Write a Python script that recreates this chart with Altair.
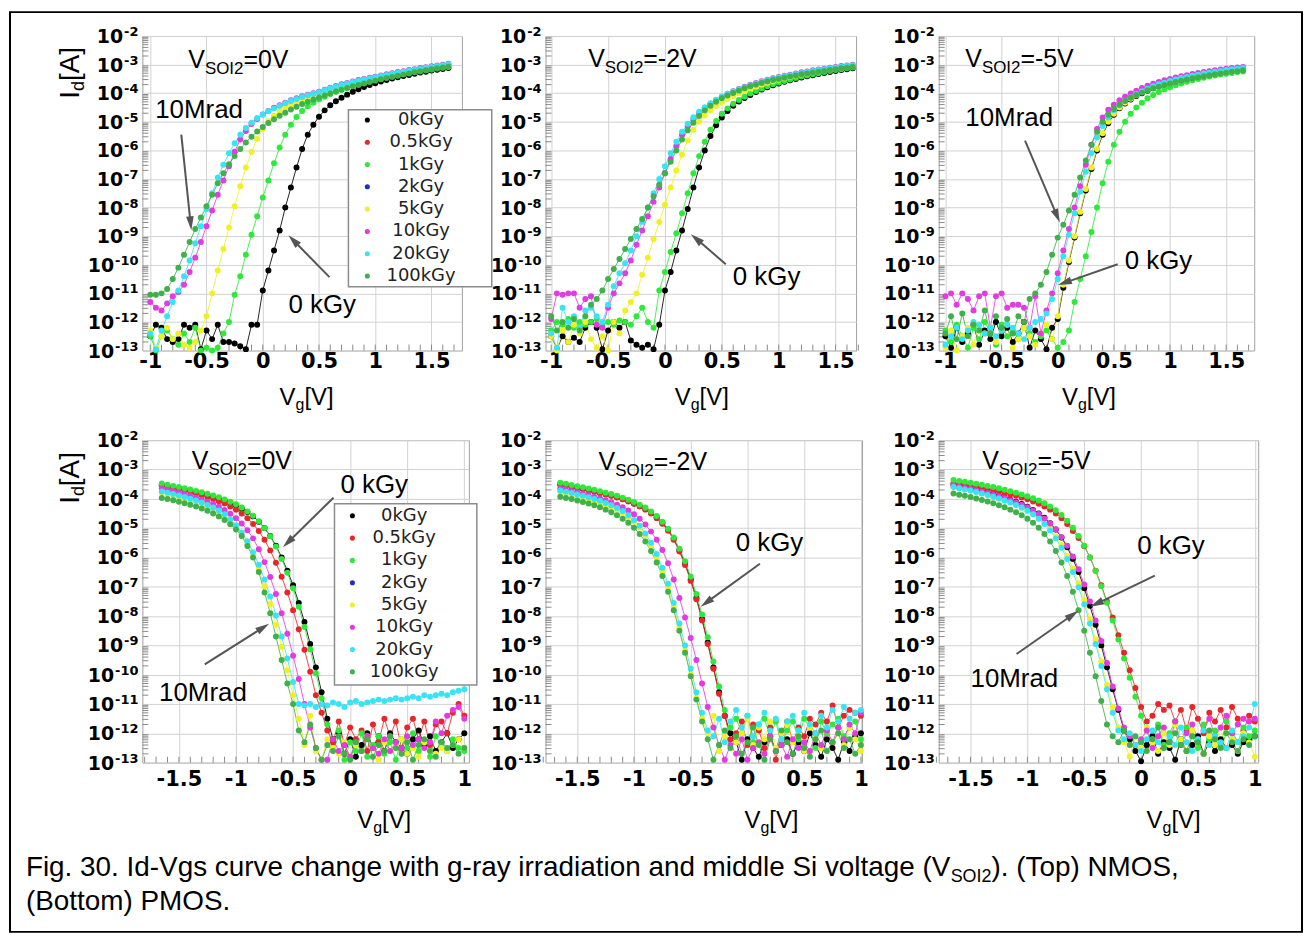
import math
import altair as alt
import pandas as pd

FONT = "Liberation Sans"
TICK_FONT = "DejaVu Sans"
LEGEND_FONT = "DejaVu Sans"
GRID = "#d2d2d2"
ARROW_COLOR = "#555555"

DOSES = ["0kGy", "0.5kGy", "1kGy", "2kGy", "5kGy", "10kGy", "20kGy", "100kGy"]
COLORS = ["#000000", "#e8262a", "#2ee83a", "#1c2fc4", "#f0f028", "#e03ce0", "#38e4f4", "#40b04a"]

VG_NMOS = [-1.0, -0.95, -0.9, -0.85, -0.8, -0.75, -0.7, -0.65, -0.6, -0.55,
           -0.5, -0.45, -0.4, -0.35, -0.3, -0.25, -0.2, -0.15, -0.1, -0.05,
           0.0, 0.05, 0.1, 0.15, 0.2, 0.25, 0.3, 0.35, 0.4, 0.45,
           0.5, 0.55, 0.6, 0.65, 0.7, 0.75, 0.8, 0.85, 0.9, 0.95,
           1.0, 1.05, 1.1, 1.15, 1.2, 1.25, 1.3, 1.35, 1.4, 1.45,
           1.5, 1.55, 1.6, 1.65]
VG_PMOS = [-1.65, -1.6, -1.55, -1.5, -1.45, -1.4, -1.35, -1.3, -1.25, -1.2,
           -1.15, -1.1, -1.05, -1.0, -0.95, -0.9, -0.85, -0.8, -0.75, -0.7,
           -0.65, -0.6, -0.55, -0.5, -0.45, -0.4, -0.35, -0.3, -0.25, -0.2,
           -0.15, -0.1, -0.05, 0.0, 0.05, 0.1, 0.15, 0.2, 0.25, 0.3,
           0.35, 0.4, 0.45, 0.5, 0.55, 0.6, 0.65, 0.7, 0.75, 0.8,
           0.85, 0.9, 0.95, 1.0]

# ---- NMOS, V_SOI2 = 0 V  (log10 Id [A]) ----
N0_0KGY = [-12.5, -12.1, -12.2, -12.6, -12.7, -12.6, -12.1, -12.2, -12.1, -12.95,
           -12.3, -12.6, -12.1, -12.7, -12.7, -12.75, -12.85, -12.95, -12.1, -12.1,
           -10.9, -10.2, -9.5, -8.8, -8.0, -7.3, -6.6, -5.95, -5.45, -5.1,
           -4.82, -4.6, -4.42, -4.28, -4.16, -4.05, -3.95, -3.86, -3.78, -3.71,
           -3.65, -3.59, -3.54, -3.49, -3.44, -3.4, -3.36, -3.32, -3.28, -3.25,
           -3.21, -3.18, -3.15, -3.12]
N0_1KGY = [-12.5, -13.0, -12.5, -12.3, -12.6, -12.8, -12.4, -12.7, -12.2, -13.0,
           -12.9, -13.0, -12.9, -12.4, -12.0, -11.05, -10.4, -9.65, -8.95, -8.3,
           -7.65, -7.05, -6.45, -5.9, -5.45, -5.1, -4.83, -4.62, -4.46, -4.33,
           -4.22, -4.12, -4.03, -3.95, -3.88, -3.81, -3.75, -3.69, -3.64, -3.59,
           -3.54, -3.5, -3.45, -3.41, -3.37, -3.33, -3.3, -3.26, -3.23, -3.2,
           -3.17, -3.14, -3.11, -3.08]
N0_5KGY = [-12.3, -12.9, -12.5, -12.2, -12.6, -12.4, -12.8, -12.9, -12.7, -12.3,
           -11.8, -11.0, -10.2, -9.45, -8.7, -7.95, -7.25, -6.6, -6.05, -5.6,
           -5.25, -4.98, -4.78, -4.62, -4.5, -4.39, -4.3, -4.21, -4.13, -4.06,
           -3.99, -3.92, -3.85, -3.79, -3.73, -3.67, -3.62, -3.57, -3.52, -3.48,
           -3.44, -3.4, -3.36, -3.32, -3.28, -3.25, -3.21, -3.18, -3.15, -3.12,
           -3.09, -3.06, -3.03, -3.0]
N0_10KGY = [-11.3, -11.5, -11.6, -11.35, -11.1, -10.95, -10.7, -10.25, -9.75, -9.2,
            -8.65, -8.1, -7.55, -7.05, -6.55, -6.05, -5.62, -5.32, -5.08, -4.9,
            -4.74, -4.62, -4.51, -4.42, -4.33, -4.25, -4.18, -4.11, -4.05, -4.0,
            -3.95, -3.88, -3.81, -3.75, -3.69, -3.64, -3.59, -3.54, -3.5, -3.46,
            -3.42, -3.38, -3.34, -3.3, -3.26, -3.23, -3.19, -3.16, -3.12, -3.09,
            -3.06, -3.03, -3.0, -2.97]
N0_20KGY = [-12.4, -12.95, -12.3, -11.8, -11.3, -10.9, -10.4, -9.85, -9.25, -8.65,
            -8.05, -7.5, -6.95, -6.5, -6.1, -5.75, -5.45, -5.22, -5.03, -4.87,
            -4.75, -4.63, -4.53, -4.44, -4.35, -4.27, -4.2, -4.13, -4.07, -4.02,
            -3.97, -3.9, -3.83, -3.77, -3.71, -3.66, -3.61, -3.56, -3.52, -3.48,
            -3.44, -3.4, -3.36, -3.32, -3.28, -3.25, -3.21, -3.18, -3.14, -3.11,
            -3.08, -3.05, -3.02, -2.99]
N0_100KGY = [-11.05, -11.05, -11.0, -10.85, -10.5, -10.1, -9.65, -9.2, -8.75, -8.35,
             -7.95, -7.55, -7.15, -6.8, -6.48, -6.2, -5.95, -5.72, -5.52, -5.34,
             -5.18, -5.04, -4.91, -4.79, -4.68, -4.57, -4.47, -4.38, -4.3, -4.22,
             -4.15, -4.08, -4.01, -3.94, -3.88, -3.82, -3.76, -3.71, -3.66, -3.61,
             -3.56, -3.51, -3.47, -3.43, -3.39, -3.35, -3.31, -3.27, -3.23, -3.2,
             -3.16, -3.13, -3.1, -3.07]

# ---- NMOS, V_SOI2 = -2 V ----
N2_0KGY = [-12.5, -12.95, -12.5, -12.7, -12.55, -12.7, -12.2, -12.0, -12.2, -12.95,
           -12.3, -12.0, -12.2, -12.0, -12.65, -12.8, -12.9, -12.8, -12.95, -12.1,
           -10.9, -10.25, -9.5, -8.8, -8.05, -7.3, -6.6, -6.0, -5.5, -5.12,
           -4.85, -4.62, -4.44, -4.29, -4.17, -4.06, -3.96, -3.87, -3.79, -3.72,
           -3.66, -3.6, -3.55, -3.5, -3.45, -3.41, -3.37, -3.33, -3.29, -3.26,
           -3.22, -3.19, -3.16, -3.13]
N2_1KGY = [-12.3, -12.0, -12.1, -11.9, -12.2, -12.0, -12.1, -12.0, -11.9, -12.1,
           -12.0, -12.1, -11.95, -12.0, -12.1, -11.8, -11.5, -12.0, -12.2, -10.9,
           -10.25, -9.55, -8.9, -8.2, -7.5, -6.8, -6.2, -5.7, -5.28, -4.97,
           -4.72, -4.53, -4.37, -4.24, -4.12, -4.01, -3.92, -3.84, -3.76, -3.69,
           -3.63, -3.57, -3.52, -3.47, -3.42, -3.38, -3.34, -3.3, -3.26, -3.22,
           -3.19, -3.16, -3.13, -3.1]
N2_5KGY = [-12.5, -13.0, -12.3, -12.7, -12.1, -12.4, -12.0, -12.6, -12.9, -12.5,
           -13.0, -12.0, -12.4, -11.6, -11.3, -11.0, -10.35, -9.75, -9.1, -8.5,
           -7.9, -7.3, -6.7, -6.15, -5.65, -5.28, -5.0, -4.78, -4.6, -4.45,
           -4.32, -4.2, -4.1, -4.0, -3.92, -3.84, -3.77, -3.7, -3.64, -3.58,
           -3.53, -3.48, -3.43, -3.39, -3.35, -3.31, -3.27, -3.24, -3.2, -3.17,
           -3.14, -3.11, -3.08, -3.05]
N2_10KGY = [-11.9, -11.0, -11.05, -11.0, -11.0, -11.5, -11.2, -11.1, -12.1, -12.2,
            -11.5, -11.0, -10.65, -10.3, -9.85, -9.3, -8.8, -8.3, -7.8, -7.3,
            -6.8, -6.3, -5.85, -5.45, -5.15, -4.9, -4.7, -4.52, -4.37, -4.24,
            -4.12, -4.02, -3.93, -3.85, -3.77, -3.7, -3.64, -3.58, -3.53, -3.48,
            -3.43, -3.39, -3.35, -3.31, -3.27, -3.24, -3.2, -3.17, -3.14, -3.11,
            -3.08, -3.05, -3.03, -3.0]
N2_20KGY = [-12.4, -12.9, -11.5, -12.0, -11.8, -12.2, -11.6, -11.5, -11.8, -12.0,
            -11.4, -10.75, -10.3, -9.95, -9.5, -9.0, -8.5, -8.0, -7.5, -7.0,
            -6.55, -6.1, -5.7, -5.35, -5.07, -4.84, -4.65, -4.49, -4.35, -4.23,
            -4.12, -4.02, -3.94, -3.86, -3.79, -3.72, -3.66, -3.6, -3.55, -3.5,
            -3.45, -3.41, -3.37, -3.33, -3.29, -3.26, -3.22, -3.19, -3.16, -3.13,
            -3.1, -3.07, -3.05, -3.02]
N2_100KGY = [-11.8, -12.3, -12.0, -12.2, -11.9, -12.3, -11.8, -11.4, -11.2, -10.9,
             -10.5, -10.15, -9.8, -9.45, -9.1, -8.75, -8.4, -8.0, -7.6, -7.2,
             -6.8, -6.4, -6.0, -5.62, -5.3, -5.03, -4.8, -4.6, -4.44, -4.3,
             -4.18, -4.08, -3.99, -3.91, -3.83, -3.76, -3.7, -3.64, -3.59, -3.54,
             -3.5, -3.46, -3.42, -3.38, -3.34, -3.31, -3.28, -3.25, -3.22, -3.19,
             -3.16, -3.13, -3.11, -3.08]

# ---- NMOS, V_SOI2 = -5 V ----
N5_0KGY = [-12.5, -12.9, -12.2, -12.7, -12.4, -12.1, -12.8, -12.3, -12.6, -12.0,
           -12.5, -12.2, -12.7, -12.4, -12.0, -12.9, -12.3, -12.6, -12.95, -12.2,
           -11.9, -10.8, -9.9, -9.05, -8.2, -7.4, -6.65, -6.0, -5.45, -5.05,
           -4.75, -4.53, -4.36, -4.22, -4.1, -4.0, -3.91, -3.83, -3.76, -3.7,
           -3.64, -3.59, -3.54, -3.5, -3.46, -3.42, -3.38, -3.35, -3.32, -3.29,
           -3.26, -3.23, -3.21, -3.19]
N5_1KGY = [-12.3, -12.7, -12.1, -12.5, -12.9, -12.2, -12.6, -12.0, -12.4, -12.8,
           -12.1, -12.5, -12.3, -12.6, -12.2, -12.4, -12.7, -12.5, -12.3, -12.6,
           -12.9, -12.7, -12.3, -11.3, -10.5, -9.7, -8.85, -8.0, -7.15, -6.4,
           -5.8, -5.35, -5.0, -4.72, -4.5, -4.33, -4.18, -4.06, -3.96, -3.87,
           -3.79, -3.72, -3.66, -3.6, -3.55, -3.5, -3.46, -3.42, -3.38, -3.35,
           -3.32, -3.29, -3.26, -3.24]
N5_5KGY = [-12.9, -12.3, -13.0, -12.5, -12.2, -12.8, -12.1, -12.4, -12.2, -12.7,
           -12.3, -12.1, -12.9, -12.6, -12.2, -12.5, -12.8, -12.4, -12.1, -12.6,
           -11.8, -10.7, -9.85, -9.0, -8.15, -7.35, -6.6, -5.95, -5.4, -5.0,
           -4.72, -4.5, -4.33, -4.19, -4.07, -3.97, -3.88, -3.8, -3.73, -3.67,
           -3.61, -3.56, -3.51, -3.47, -3.43, -3.39, -3.35, -3.32, -3.29, -3.26,
           -3.23, -3.2, -3.18, -3.16]
N5_10KGY = [-11.1, -11.0, -11.4, -11.0, -11.2, -11.6, -11.1, -11.0, -12.2, -11.1,
            -11.0, -11.5, -11.4, -11.4, -11.5, -12.2, -11.1, -12.4, -11.6, -11.0,
            -10.3, -9.5, -8.75, -8.0, -7.25, -6.5, -5.8, -5.25, -4.85, -4.58,
            -4.4, -4.25, -4.12, -4.01, -3.91, -3.82, -3.74, -3.67, -3.61, -3.55,
            -3.5, -3.45, -3.41, -3.37, -3.33, -3.29, -3.26, -3.23, -3.2, -3.17,
            -3.14, -3.12, -3.1, -3.08]
N5_20KGY = [-12.8, -12.5, -12.2, -12.6, -12.3, -12.0, -12.1, -12.4, -12.2, -12.5,
            -12.3, -12.1, -12.2, -12.4, -12.6, -12.2, -12.0, -11.9, -11.7, -11.2,
            -10.5, -9.7, -8.95, -8.2, -7.45, -6.75, -6.1, -5.55, -5.15, -4.85,
            -4.6, -4.42, -4.27, -4.14, -4.03, -3.93, -3.84, -3.76, -3.69, -3.63,
            -3.57, -3.52, -3.47, -3.43, -3.39, -3.35, -3.31, -3.28, -3.25, -3.22,
            -3.19, -3.16, -3.14, -3.12]
N5_100KGY = [-12.4, -11.8, -12.6, -11.7, -12.5, -12.1, -12.3, -11.6, -12.4, -11.8,
             -12.2, -11.9, -12.4, -11.8, -12.0, -11.2, -11.0, -10.7, -10.25, -9.65,
             -9.05, -8.6, -8.1, -7.55, -6.95, -6.35, -5.8, -5.35, -5.0, -4.75,
             -4.55, -4.4, -4.27, -4.16, -4.06, -3.98, -3.9, -3.83, -3.77, -3.71,
             -3.66, -3.61, -3.56, -3.52, -3.48, -3.44, -3.41, -3.37, -3.34, -3.31,
             -3.28, -3.25, -3.23, -3.2]

# ---- PMOS, V_SOI2 = 0 V ----
P0_0KGY = [-3.52, -3.56, -3.6, -3.64, -3.68, -3.72, -3.77, -3.82, -3.87, -3.93,
           -3.99, -4.06, -4.14, -4.23, -4.33, -4.45, -4.6, -4.78, -5.0, -5.27,
           -5.6, -6.0, -6.45, -6.95, -7.55, -8.2, -8.95, -9.75, -10.6, -11.5,
           -12.2, -12.0, -12.7, -12.2, -12.8, -12.4, -12.0, -12.5, -12.1, -12.6,
           -12.0, -12.3, -12.5, -12.7, -12.2, -11.9, -12.4, -12.1, -12.6, -12.3,
           -12.0, -12.5, -12.2, -12.0]
P0_05KGY = [-3.55, -3.59, -3.63, -3.67, -3.72, -3.77, -3.82, -3.88, -3.94, -4.01,
            -4.08, -4.16, -4.26, -4.37, -4.5, -4.66, -4.86, -5.1, -5.4, -5.76,
            -6.18, -6.66, -7.2, -7.8, -8.45, -9.15, -9.9, -10.7, -11.3, -11.9,
            -12.3, -11.6, -12.4, -11.8, -12.2, -11.9, -12.6, -11.7, -12.3, -11.5,
            -12.1, -11.6, -12.5, -11.8, -11.5, -12.2, -11.6, -12.4, -11.7, -11.6,
            -12.0, -11.3, -11.0, -11.4]
P0_1KGY = [-3.48, -3.52, -3.56, -3.6, -3.64, -3.68, -3.73, -3.78, -3.83, -3.89,
           -3.95, -4.02, -4.1, -4.19, -4.3, -4.43, -4.58, -4.77, -5.0, -5.28,
           -5.63, -6.05, -6.52, -7.05, -7.68, -8.37, -9.13, -9.95, -10.8, -11.7,
           -12.5, -11.9, -12.9, -12.3, -12.6, -12.0, -12.8, -12.4, -12.1, -12.7,
           -12.3, -12.9, -12.2, -12.5, -12.0, -12.6, -12.3, -12.8, -12.1, -12.4,
           -12.6, -12.2, -12.5, -12.6]
P0_5KGY = [-3.8, -3.84, -3.89, -3.94, -3.99, -4.05, -4.11, -4.18, -4.26, -4.35,
           -4.46, -4.59, -4.75, -4.95, -5.22, -5.55, -5.95, -6.42, -6.98, -7.6,
           -8.3, -9.05, -9.85, -10.7, -11.5, -12.4, -11.4, -12.6, -12.9, -12.2,
           -12.5, -12.7, -12.3, -12.8, -12.4, -12.6, -12.1, -12.5, -12.9, -12.3,
           -12.6, -12.4, -12.2, -12.7, -12.5, -12.8, -12.3, -12.6, -12.7, -12.5,
           -12.6, -12.4, -12.2, -12.5]
P0_10KGY = [-3.65, -3.69, -3.74, -3.79, -3.84, -3.9, -3.96, -4.03, -4.1, -4.18,
            -4.27, -4.38, -4.51, -4.66, -4.84, -5.07, -5.35, -5.72, -6.16, -6.67,
            -7.25, -7.9, -8.6, -9.35, -10.15, -11.0, -11.8, -12.5, -12.9, -12.9,
            -12.2, -12.6, -12.4, -12.8, -12.3, -12.6, -12.1, -12.5, -12.7, -12.2,
            -12.6, -12.3, -12.5, -12.1, -12.4, -12.2, -12.5, -12.3, -11.6, -12.0,
            -11.4, -11.2, -11.1, -11.5]
P0_20KGY = [-3.75, -3.79, -3.84, -3.89, -3.94, -4.0, -4.06, -4.13, -4.21, -4.3,
            -4.4, -4.53, -4.7, -4.9, -5.15, -5.45, -5.82, -6.25, -6.75, -7.33,
            -7.98, -8.7, -9.45, -10.25, -11.0, -11.05, -11.0, -11.1, -11.0, -11.05,
            -10.95, -11.0, -11.1, -10.95, -10.9, -11.0, -10.95, -10.9, -10.85, -10.9,
            -10.85, -10.8, -10.85, -10.8, -10.75, -10.8, -10.7, -10.75, -10.7, -10.65,
            -10.7, -10.6, -10.55, -10.5]
P0_100KGY = [-3.97, -4.01, -4.05, -4.1, -4.15, -4.2, -4.26, -4.33, -4.41, -4.5,
             -4.6, -4.72, -4.87, -5.05, -5.27, -5.61, -6.0, -6.5, -7.2, -7.9,
             -8.7, -9.5, -10.3, -11.0, -11.9, -12.3, -11.7, -12.5, -12.9, -12.4,
             -12.6, -12.1, -12.7, -12.9, -12.3, -12.6, -12.2, -12.8, -12.4, -12.6,
             -12.1, -12.5, -12.7, -12.3, -12.9, -12.4, -12.2, -12.6, -12.8, -12.3,
             -12.5, -12.4, -12.7, -12.5]

# ---- PMOS, V_SOI2 = -2 V ----
P2_0KGY = [-3.5, -3.54, -3.58, -3.62, -3.66, -3.7, -3.74, -3.79, -3.84, -3.89,
           -3.95, -4.01, -4.08, -4.16, -4.25, -4.35, -4.48, -4.63, -4.82, -5.05,
           -5.35, -5.75, -6.2, -6.75, -7.38, -8.1, -8.9, -9.75, -10.6, -11.4,
           -12.0, -12.3, -12.9, -12.2, -12.5, -12.8, -12.3, -12.1, -12.6, -12.4,
           -12.2, -12.7, -12.3, -12.6, -12.0, -12.4, -12.8, -12.2, -12.5, -12.9,
           -12.3, -12.6, -12.1, -12.0]
P2_05KGY = [-3.51, -3.55, -3.59, -3.63, -3.67, -3.71, -3.75, -3.8, -3.85, -3.9,
            -3.96, -4.02, -4.09, -4.17, -4.26, -4.37, -4.5, -4.66, -4.85, -5.09,
            -5.4, -5.8, -6.26, -6.8, -7.43, -8.15, -8.95, -9.8, -10.65, -11.4,
            -12.2, -12.0, -11.6, -12.4, -11.7, -11.9, -12.5, -11.8, -12.9, -12.0,
            -11.6, -12.3, -11.8, -12.1, -11.5, -11.7, -11.3, -11.6, -11.05, -11.8,
            -11.4, -11.2, -11.3, -11.4]
P2_1KGY = [-3.45, -3.49, -3.53, -3.57, -3.61, -3.65, -3.69, -3.74, -3.79, -3.84,
           -3.9, -3.96, -4.03, -4.11, -4.2, -4.3, -4.43, -4.59, -4.78, -5.02,
           -5.32, -5.7, -6.13, -6.65, -7.25, -7.95, -8.72, -9.55, -10.4, -11.2,
           -11.8, -11.5, -12.0, -11.4, -12.3, -11.7, -11.5, -12.1, -11.6, -12.4,
           -11.9, -11.6, -12.2, -11.5, -11.8, -12.5, -11.6, -12.0, -11.7, -11.5,
           -12.1, -11.8, -11.6, -12.2]
P2_5KGY = [-3.78, -3.82, -3.86, -3.91, -3.96, -4.01, -4.07, -4.13, -4.2, -4.28,
           -4.37, -4.48, -4.62, -4.78, -4.98, -5.25, -5.58, -5.98, -6.45, -7.02,
           -7.68, -8.4, -9.18, -10.0, -10.8, -11.5, -12.0, -11.4, -12.6, -12.1,
           -11.6, -12.3, -12.0, -11.5, -12.4, -11.8, -12.2, -11.6, -12.5, -12.0,
           -11.7, -12.3, -11.9, -12.6, -11.8, -12.2, -12.5, -11.9, -12.3, -12.0,
           -12.4, -11.8, -12.2, -12.6]
P2_10KGY = [-3.65, -3.69, -3.73, -3.78, -3.83, -3.88, -3.93, -3.99, -4.05, -4.12,
            -4.2, -4.29, -4.4, -4.53, -4.68, -4.88, -5.12, -5.4, -5.75, -6.2,
            -6.75, -7.38, -8.05, -8.75, -9.5, -10.3, -11.1, -11.8, -12.4, -12.9,
            -12.4, -12.7, -12.2, -12.9, -12.5, -12.3, -12.7, -12.1, -12.6, -12.4,
            -12.8, -12.2, -12.5, -12.3, -12.6, -12.0, -12.4, -11.9, -12.3, -11.8,
            -12.2, -11.7, -12.0, -11.3]
P2_20KGY = [-3.72, -3.76, -3.8, -3.85, -3.9, -3.95, -4.01, -4.07, -4.14, -4.22,
            -4.31, -4.42, -4.56, -4.72, -4.92, -5.18, -5.5, -5.88, -6.35, -6.9,
            -7.55, -8.25, -9.0, -9.8, -10.6, -11.3, -11.9, -12.1, -11.5, -12.3,
            -11.6, -11.2, -11.8, -11.4, -12.1, -11.7, -11.3, -11.9, -11.5, -12.2,
            -11.6, -11.4, -11.9, -11.3, -11.7, -12.0, -11.4, -11.8, -11.2, -11.6,
            -11.1, -11.5, -11.3, -11.2]
P2_100KGY = [-3.93, -3.97, -4.01, -4.06, -4.11, -4.16, -4.22, -4.29, -4.37, -4.46,
             -4.56, -4.68, -4.82, -4.99, -5.2, -5.46, -5.78, -6.17, -6.63, -7.17,
             -7.8, -8.5, -9.25, -10.05, -10.85, -11.6, -12.2, -12.9, -12.4, -11.9,
             -12.5, -12.1, -12.7, -12.3, -11.8, -12.4, -12.9, -12.2, -12.6, -11.9,
             -12.3, -12.7, -12.1, -12.5, -12.8, -12.2, -11.9, -12.6, -12.3, -12.0,
             -12.5, -12.2, -12.7, -12.4]

# ---- PMOS, V_SOI2 = -5 V ----
P5_0KGY = [-3.53, -3.57, -3.61, -3.65, -3.69, -3.74, -3.79, -3.84, -3.9, -3.96,
           -4.03, -4.1, -4.18, -4.27, -4.38, -4.5, -4.65, -4.83, -5.05, -5.32,
           -5.65, -6.05, -6.5, -7.05, -7.65, -8.3, -9.0, -9.75, -10.5, -11.2,
           -11.9, -12.2, -12.6, -12.95, -12.4, -12.1, -12.7, -12.3, -12.5, -12.9,
           -12.2, -12.6, -12.4, -12.1, -12.7, -12.3, -12.6, -12.2, -12.5, -12.4,
           -12.7, -12.3, -12.2, -12.1]
P5_05KGY = [-3.47, -3.5, -3.53, -3.56, -3.6, -3.63, -3.67, -3.71, -3.75, -3.8,
            -3.85, -3.9, -3.96, -4.02, -4.09, -4.17, -4.26, -4.37, -4.5, -4.66,
            -4.86, -5.1, -5.34, -5.62, -6.0, -6.45, -6.95, -7.5, -8.05, -8.65,
            -9.25, -9.85, -10.45, -11.1, -11.6, -11.4, -11.0, -11.2, -11.05, -11.6,
            -11.2, -11.9, -11.1, -11.5, -12.0, -11.3, -11.6, -11.2, -11.8, -11.1,
            -11.5, -11.9, -11.4, -11.6]
P5_1KGY = [-3.36, -3.39, -3.42, -3.45, -3.49, -3.52, -3.56, -3.6, -3.64, -3.69,
           -3.74, -3.79, -3.85, -3.91, -3.98, -4.06, -4.15, -4.26, -4.39, -4.55,
           -4.75, -4.99, -5.27, -5.6, -6.0, -6.46, -6.98, -7.55, -8.15, -8.8,
           -9.45, -10.1, -10.75, -11.4, -11.9, -12.2, -11.7, -12.4, -12.0, -11.6,
           -12.3, -11.8, -12.1, -12.5, -11.7, -12.2, -11.9, -12.4, -11.6, -12.0,
           -12.3, -11.8, -12.1, -11.9]
P5_5KGY = [-3.6, -3.64, -3.68, -3.72, -3.77, -3.82, -3.87, -3.93, -3.99, -4.06,
           -4.13, -4.21, -4.3, -4.4, -4.52, -4.66, -4.83, -5.03, -5.28, -5.58,
           -5.95, -6.38, -6.88, -7.45, -8.1, -8.8, -9.55, -10.35, -11.1, -11.8,
           -12.3, -12.8, -12.1, -12.5, -11.8, -12.3, -12.6, -12.0, -12.4, -11.7,
           -12.2, -12.6, -11.9, -12.3, -12.7, -12.1, -12.4, -11.8, -12.5, -12.2,
           -12.6, -12.0, -12.3, -12.8]
P5_10KGY = [-3.55, -3.59, -3.63, -3.67, -3.71, -3.76, -3.81, -3.86, -3.92, -3.98,
            -4.05, -4.12, -4.2, -4.29, -4.4, -4.52, -4.67, -4.84, -5.05, -5.3,
            -5.6, -5.97, -6.4, -6.92, -7.5, -8.15, -8.85, -9.6, -10.4, -11.15,
            -11.8, -12.1, -12.4, -12.2, -11.9, -12.5, -12.1, -11.8, -12.3, -11.6,
            -12.4, -12.0, -11.7, -12.2, -11.9, -11.5, -12.1, -11.8, -11.4, -12.0,
            -11.7, -11.5, -11.6, -11.5]
P5_20KGY = [-3.6, -3.64, -3.68, -3.72, -3.77, -3.82, -3.87, -3.93, -3.99, -4.06,
            -4.13, -4.21, -4.3, -4.41, -4.53, -4.68, -4.86, -5.08, -5.35, -5.67,
            -6.05, -6.5, -7.02, -7.6, -8.25, -8.95, -9.7, -10.5, -11.3, -11.9,
            -12.2, -12.0, -12.4, -12.6, -12.2, -11.9, -12.3, -12.5, -12.1, -12.4,
            -11.8, -12.3, -12.6, -12.2, -11.9, -12.4, -12.1, -12.3, -12.5, -11.9,
            -12.3, -12.1, -11.8, -11.0]
P5_100KGY = [-3.82, -3.86, -3.9, -3.94, -3.99, -4.04, -4.09, -4.15, -4.22, -4.29,
             -4.37, -4.46, -4.56, -4.68, -4.82, -4.99, -5.2, -5.46, -5.78, -6.17,
             -6.63, -7.17, -7.8, -8.5, -9.25, -10.05, -10.9, -11.7, -12.1, -12.3,
             -11.9, -12.4, -12.1, -12.3, -12.6, -12.2, -11.8, -12.5, -12.3, -12.0,
             -12.4, -12.6, -12.1, -12.3, -12.7, -11.9, -12.2, -12.5, -12.0, -12.3,
             -12.6, -12.2, -12.4, -12.1]

Y_TICK_EXPONENTS = [-2, -3, -4, -5, -6, -7, -8, -9, -10, -11, -12, -13]
TOP_X_TICKS = [-1, -0.5, 0, 0.5, 1, 1.5]
BOTTOM_X_TICKS = [-1.5, -1, -0.5, 0, 0.5, 1]
TOP_X_MINOR = [round(-1.0 + 0.1 * i, 2) for i in range(28)]
BOTTOM_X_MINOR = [round(-1.8 + 0.1 * i, 2) for i in range(29)]
Y_MINOR = [k * 10.0 ** e for e in range(-13, -2) for k in range(2, 10)]

CAPTION_1A = "Fig. 30. Id-Vgs curve change with g-ray irradiation and middle Si voltage (V"
CAPTION_1B = "SOI2"
CAPTION_1C = "). (Top) NMOS,"
CAPTION_2 = "(Bottom) PMOS."

ARIAL = {' ': 278, '(': 333, ')': 333, ',': 278, '-': 333, '.': 278, '=': 584,
         'A': 667, 'B': 667, 'F': 611, 'G': 778, 'I': 278, 'M': 833, 'N': 722, 'O': 778,
         'P': 667, 'S': 667, 'T': 611, 'V': 667, '[': 278, ']': 278, 'a': 556, 'c': 500,
         'd': 556, 'e': 556, 'g': 556, 'h': 556, 'i': 222, 'k': 500, 'l': 222, 'm': 833,
         'n': 556, 'o': 556, 'p': 556, 'r': 333, 's': 500, 't': 278, 'u': 556, 'v': 500,
         'w': 722, 'y': 500}
DEJAVU_BOLD = {'-': 411, '.': 380}


def text_width(s, size):
    return sum(ARIAL.get(c, 556) for c in s) * size / 1000.0


def bold_width(s, size):
    return sum(DEJAVU_BOLD.get(c, 696) for c in s) * size / 1000.0


ONE = pd.DataFrame({"k": [0]})


def piece(s, x, y, size, angle=0, align="left", font=FONT, weight="normal", color="black", baseline="alphabetic"):
    kw = dict(text=s, font=font, fontSize=size, fontWeight=weight, color=color, align=align, baseline=baseline)
    if angle:
        kw["angle"] = angle
    return alt.Chart(ONE).mark_text(**kw).encode(x=alt.value(x), y=alt.value(y))


def rich(pieces, x, y):
    out, cx = [], x
    for s, size, dy in pieces:
        out.append(piece(s, cx, y + dy, size))
        cx += text_width(s, size)
    return out


def rich_vertical(pieces, x, y):
    out, cy = [], y
    for s, size, dx in pieces:
        out.append(piece(s, x + dx, cy, size, angle=270))
        cy -= text_width(s, size)
    return out


def arrow(x1, y1, x2, y2):
    dx, dy = x2 - x1, y2 - y1
    L = math.hypot(dx, dy)
    ux, uy = dx / L, dy / L
    r = 7.0
    line = alt.Chart(ONE).mark_rule(color=ARROW_COLOR, strokeWidth=2).encode(
        x=alt.value(x1), y=alt.value(y1), x2=alt.value(x2 - ux * r * 1.3), y2=alt.value(y2 - uy * r * 1.3))
    ang = math.degrees(math.atan2(dx, -dy)) % 360
    head = alt.Chart(ONE).mark_point(shape="M0,-1L0.55,1L-0.55,1Z", filled=True, size=(2 * r) ** 2,
                                     angle=ang, color=ARROW_COLOR, opacity=1, strokeWidth=0).encode(
        x=alt.value(x2 - ux * r), y=alt.value(y2 - uy * r))
    return [line, head]


def legend_layers(spec):
    bx0, by0, bx1, by1 = spec["box"]
    out = [alt.Chart(ONE).mark_rect(fill="white", stroke="#8c8c8c", strokeWidth=1.5).encode(
        x=alt.value(bx0), x2=alt.value(bx1), y=alt.value(by0), y2=alt.value(by1))]
    for i, (d, c) in enumerate(zip(DOSES, COLORS)):
        yy = spec["row0"] + spec["step"] * i
        out.append(alt.Chart(ONE).mark_circle(color=c, size=26, opacity=1).encode(
            x=alt.value(spec["sym_x"]), y=alt.value(yy)))
        out.append(piece(d, spec["lab_x"], yy, 18, align="center", font=LEGEND_FONT,
                         color="#222222", baseline="middle"))
    return out


def build_panel(cfg):
    w, h = cfg["w"], cfg["h"]
    x0, x1 = cfg["xdom"]

    def px(v):
        return (v - x0) / (x1 - x0) * w

    def py(lg):
        return (-2.0 - lg) / 11.0 * h

    rows = []
    for dose, vals in cfg["series"]:
        assert len(vals) == len(cfg["vg"]), (cfg["name"], dose, len(vals))
        for v, lg in zip(cfg["vg"], vals):
            rows.append({"vg": v, "cur": 10.0 ** lg, "dose": dose})
    df = pd.DataFrame(rows)

    xs = alt.Scale(domain=[x0, x1], nice=False, zero=False)
    ys = alt.Scale(type="log", domain=[1e-13, 1e-2], nice=False)
    xax = alt.Axis(values=cfg["xticks"], labelExpr="datum.value + ''", labelFont=TICK_FONT,
                   labelFontWeight="bold", labelFontSize=21, labelColor="black",
                   labelPadding=cfg["xlp"], ticks=False, tickSize=0, domain=False, grid=True,
                   gridColor=GRID, gridWidth=1, title=None, labelFlush=False, labelOverlap=False)
    yax = alt.Axis(values=[10.0 ** e for e in Y_TICK_EXPONENTS], labels=False,
                   ticks=False, tickSize=0, domain=False, grid=True, gridColor=GRID, gridWidth=1,
                   title=None)
    X = alt.X("vg:Q", scale=xs, axis=xax)
    Y = alt.Y("cur:Q", scale=ys, axis=yax)
    C = alt.Color("dose:N", scale=alt.Scale(domain=DOSES, range=COLORS), legend=None)

    layers = []
    layers.append(alt.Chart(pd.DataFrame({"vg": cfg["xminor"]})).mark_rule(color="#8a8a8a", strokeWidth=1).encode(
        x=X, y=alt.value(h), y2=alt.value(h - 6)))
    layers.append(alt.Chart(pd.DataFrame({"cur": Y_MINOR})).mark_rule(color="#8a8a8a", strokeWidth=1).encode(
        y=Y, x=alt.value(0), x2=alt.value(6)))
    layers.append(alt.Chart(df).mark_line(strokeWidth=1, opacity=0.85).encode(x=X, y=Y, color=C))
    layers.append(alt.Chart(df).mark_circle(size=36, opacity=1).encode(x=X, y=Y, color=C))

    # y tick labels "10" with superscript exponent, right-aligned as a whole
    for e in Y_TICK_EXPONENTS:
        es = str(e)
        ew = bold_width(es, 13)
        layers.append(alt.Chart(ONE).mark_text(text=es, font=TICK_FONT, fontWeight="bold", fontSize=13,
                                               align="right", baseline="alphabetic", color="black").encode(
            x=alt.value(-4), y=alt.datum(10.0 ** e)))
        layers.append(alt.Chart(ONE).mark_text(text="10", font=TICK_FONT, fontWeight="bold", fontSize=19,
                                               align="right", baseline="middle", color="black", dy=1).encode(
            x=alt.value(-5 - ew), y=alt.datum(10.0 ** e)))

    # V_SOI2 label
    sv, sl = cfg["soi_at"]
    layers += rich([("V", 25, 0), ("SOI2", 17, 6), (cfg["soi"], 25, 0)], px(sv), py(sl) - 4)
    for s, v, lg in cfg["texts"]:
        layers.append(piece(s, px(v), py(lg), 26))
    for (v1, l1), (v2, l2) in cfg["arrows"]:
        layers += arrow(px(v1), py(l1), px(v2), py(l2))

    # x title
    tpieces = [("V", 24, 0), ("g", 16, 5), ("[V]", 24, 0)]
    tw = sum(text_width(s, z) for s, z, _ in tpieces)
    cx, by = cfg["xtitle"]
    layers += rich(tpieces, cx - tw / 2, by)

    if cfg.get("ytitle"):
        yx, yy = cfg["ytitle"]
        layers += rich_vertical([("I", 28, 0), ("d", 18, 5), ("[A]", 28, 0)], yx, yy)
    if cfg.get("legend"):
        layers += legend_layers(cfg["legend"])
    if cfg.get("frame"):
        fx0, fy0, fx1, fy1 = cfg["frame"]
        layers.append(alt.Chart(ONE).mark_rect(fillOpacity=0, stroke="black", strokeWidth=2).encode(
            x=alt.value(fx0), x2=alt.value(fx1), y=alt.value(fy0), y2=alt.value(fy1)))
    if cfg.get("caption"):
        cx0, cy1, cy2 = cfg["caption"]
        layers += rich([(CAPTION_1A, 28, 0), (CAPTION_1B, 18, 6), (CAPTION_1C, 28, 0)], cx0, cy1)
        layers.append(piece(CAPTION_2, cx0, cy2, 28))

    return alt.layer(*layers).properties(width=w, height=h)


PANELS = [
    dict(name="TL", vg=VG_NMOS, xdom=[-1.07, 1.77], w=321, h=316, xticks=TOP_X_TICKS, xminor=TOP_X_MINOR, xlp=0,
         series=[("0kGy", N0_0KGY), ("1kGy", N0_1KGY), ("5kGy", N0_5KGY), ("10kGy", N0_10KGY),
                 ("20kGy", N0_20KGY), ("100kGy", N0_100KGY)],
         soi="=0V", soi_at=(-0.662, -3.254),
         texts=[("10Mrad", -0.956, -4.857), ("0 kGy", 0.228, -11.686)],
         arrows=[((-0.724, -5.449), (-0.635, -8.794)), ((0.593, -10.432), (0.228, -8.969))],
         xtitle=(165, 371), ytitle=(-64, 63),
         legend=dict(box=(207, 74, 351, 252), sym_x=226, lab_x=280, row0=84.3, step=22.4),
         frame=(-133, -24, 1165, 900)),
    dict(name="TM", vg=VG_NMOS, xdom=[-1.05, 1.68], w=312, h=316, xticks=TOP_X_TICKS, xminor=TOP_X_MINOR, xlp=0,
         series=[("0kGy", N2_0KGY), ("1kGy", N2_1KGY), ("5kGy", N2_5KGY), ("10kGy", N2_10KGY),
                 ("20kGy", N2_20KGY), ("100kGy", N2_100KGY)],
         soi="=-2V", soi_at=(-0.675, -3.22),
         texts=[("0 kGy", 0.596, -10.71)],
         arrows=[((0.535, -9.98), (0.228, -8.93))],
         xtitle=(157, 371)),
    dict(name="TR", vg=VG_NMOS, xdom=[-1.06, 1.75], w=317, h=316, xticks=TOP_X_TICKS, xminor=TOP_X_MINOR, xlp=0,
         series=[("0kGy", N5_0KGY), ("1kGy", N5_1KGY), ("5kGy", N5_5KGY), ("10kGy", N5_10KGY),
                 ("20kGy", N5_20KGY), ("100kGy", N5_100KGY)],
         soi="=-5V", soi_at=(-0.823, -3.22),
         texts=[("10Mrad", -0.823, -5.136), ("0 kGy", 0.596, -10.15)],
         arrows=[((-0.291, -5.66), (0.019, -8.52)), ((0.534, -9.98), (0.002, -10.71))],
         xtitle=(151, 371)),
    dict(name="BL", vg=VG_PMOS, xdom=[-1.82, 1.04], w=328, h=324, xticks=BOTTOM_X_TICKS, xminor=BOTTOM_X_MINOR, xlp=6,
         series=[("0kGy", P0_0KGY), ("0.5kGy", P0_05KGY), ("1kGy", P0_1KGY), ("5kGy", P0_5KGY),
                 ("10kGy", P0_10KGY), ("20kGy", P0_20KGY), ("100kGy", P0_100KGY)],
         soi="=0V", soi_at=(-1.387, -3.117),
         texts=[("0 kGy", -0.085, -3.794), ("10Mrad", -1.674, -10.9)],
         arrows=[((-0.146, -3.963), (-0.589, -5.655)), ((-1.274, -9.648), (-0.71, -8.26))],
         xtitle=(243, 390), ytitle=(-64, 64),
         legend=dict(box=(193, 64, 336, 246), sym_x=211, lab_x=263, row0=76, step=22.4),
         caption=(-117, 438, 472)),
    dict(name="BM", vg=VG_PMOS, xdom=[-1.78, 1.01], w=318, h=324, xticks=BOTTOM_X_TICKS, xminor=BOTTOM_X_MINOR, xlp=6,
         series=[("0kGy", P2_0KGY), ("0.5kGy", P2_05KGY), ("1kGy", P2_1KGY), ("5kGy", P2_5KGY),
                 ("10kGy", P2_10KGY), ("20kGy", P2_20KGY), ("100kGy", P2_100KGY)],
         soi="=-2V", soi_at=(-1.312, -3.156),
         texts=[("0 kGy", -0.104, -5.776)],
         arrows=[((0.11, -6.218), (-0.413, -7.68))],
         xtitle=(227, 390)),
    dict(name="BR", vg=VG_PMOS, xdom=[-1.78, 1.03], w=321, h=324, xticks=BOTTOM_X_TICKS, xminor=BOTTOM_X_MINOR, xlp=6,
         series=[("0kGy", P5_0KGY), ("0.5kGy", P5_05KGY), ("1kGy", P5_1KGY), ("5kGy", P5_5KGY),
                 ("10kGy", P5_10KGY), ("20kGy", P5_20KGY), ("100kGy", P5_100KGY)],
         soi="=-5V", soi_at=(-1.397, -3.13),
         texts=[("0 kGy", -0.034, -5.87), ("10Mrad", -1.5, -10.425)],
         arrows=[((0.121, -6.623), (-0.448, -7.685)), ((-1.095, -9.295), (-0.552, -7.822))],
         xtitle=(236, 390)),
]

charts = [build_panel(c) for c in PANELS]

chart = alt.concat(*charts, columns=3, spacing={"row": 90, "column": 77}, bounds="flush").properties(
    padding=0, background="white"
).configure_view(stroke="#a0a0a0", strokeWidth=1)

chart.save("out.html", embed_options={"renderer": "svg", "actions": False})
